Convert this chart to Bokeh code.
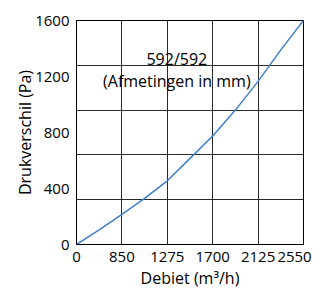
from bokeh.plotting import figure
from bokeh.models import FixedTicker, Range1d, Label
from bokeh.embed import file_html
from bokeh.resources import INLINE

# x axis: equally spaced tick positions with these labels (m3/h)
x_tick_labels = ["0", "850", "1275", "1700", "2125", "2550"]
x_tick_pos = [0, 1, 2, 3, 4, 5]
# curve (position along x axis, pressure in Pa)
curve_pos = [0, 0.5, 1, 1.5, 2, 2.5, 3, 3.5, 4, 4.5, 5]
curve_pa = [0, 105, 215, 330, 455, 615, 775, 960, 1165, 1390, 1600]
y_ticks = [0, 400, 800, 1200, 1600]
y_grid = [320, 640, 960, 1280]

FONT = "Open Sans"

p = figure(width=319, height=291, x_range=Range1d(0, 5), y_range=Range1d(0, 1600),
           output_backend="svg", toolbar_location=None,
           min_border_left=76, min_border_right=16, min_border_top=20, min_border_bottom=44)
p.background_fill_color = "white"
p.border_fill_color = "white"
p.outline_line_color = "black"
p.outline_line_width = 1

p.xaxis.ticker = FixedTicker(ticks=x_tick_pos)
# last label padded on the right so that it stays inside the picture
overrides = {pos: lab for pos, lab in zip(x_tick_pos, x_tick_labels)}
overrides[x_tick_pos[-1]] = x_tick_labels[-1] + "\u00a0" * 2
p.xaxis.major_label_overrides = overrides
p.yaxis.ticker = FixedTicker(ticks=y_ticks)
p.xgrid.ticker = FixedTicker(ticks=x_tick_pos)
p.ygrid.ticker = FixedTicker(ticks=y_grid)

for g in (p.xgrid, p.ygrid):
    g.grid_line_color = "#2a2a2a"
    g.grid_line_width = 1

for ax in (p.xaxis, p.yaxis):
    ax.major_tick_out = 0
    ax.major_tick_in = 0
    ax.minor_tick_out = 0
    ax.minor_tick_in = 0
    ax.axis_line_color = "black"
    ax.major_label_text_font = FONT
    ax.major_label_text_font_size = "15px"
    ax.major_label_text_color = "black"
    ax.axis_label_text_font = FONT
    ax.axis_label_text_font_size = "16px"
    ax.axis_label_text_font_style = "normal"
    ax.axis_label_text_color = "black"

p.xaxis.axis_label = "Debiet (m³/h)"
p.yaxis.axis_label = "Drukverschil (Pa)"
p.xaxis.major_label_standoff = 1
p.xaxis.axis_label_standoff = -2
p.yaxis.major_label_standoff = 7
p.yaxis.axis_label_standoff = -4

p.line(curve_pos, curve_pa, line_color="#3f7fcf", line_width=1.5)

p.add_layout(Label(x=2.21, y=1325, text="592/592", text_align="center", text_baseline="middle",
                   text_font=FONT, text_font_size="16px", text_color="black"))
p.add_layout(Label(x=2.21, y=1170, text="(Afmetingen in mm)", text_align="center",
                   text_baseline="middle", text_font=FONT, text_font_size="16px",
                   text_color="black"))

open("out.html", "w").write(file_html(p, INLINE))
